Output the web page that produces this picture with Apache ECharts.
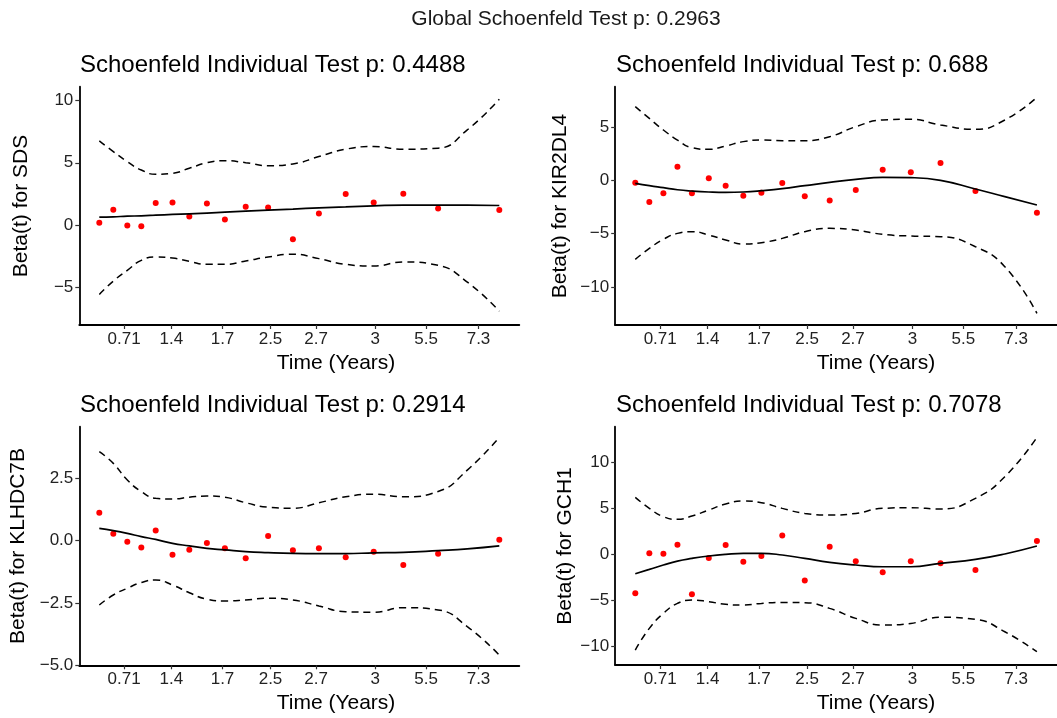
<!DOCTYPE html>
<html>
<head>
<meta charset="utf-8">
<script src="https://cdn.jsdelivr.net/npm/echarts@6/dist/echarts.min.js"></script>
<style>html,body{margin:0;padding:0;background:#fff}#c{width:1057px;height:718px}</style>
</head>
<body>
<div id="c"></div>
<script>
// transformed time positions of events (shared by all panels)
const eventX = [0, 0.035, 0.07, 0.105, 0.141, 0.183, 0.225, 0.269, 0.314, 0.366, 0.422, 0.484, 0.549, 0.616, 0.686, 0.76, 0.847, 1.0];
// grid on which the smooth fit and bounds are evaluated
const curveX = [0, 0.035, 0.07, 0.105, 0.141, 0.183, 0.225, 0.269, 0.314, 0.366, 0.422, 0.484, 0.549, 0.616, 0.686, 0.76, 0.847, 0.92, 1.0];
// x tick positions and labels (time in years)
const xTickPos = [0.062, 0.18, 0.308, 0.428, 0.542, 0.69, 0.817, 0.948];
const xTickLabels = ['0.71', '1.4', '1.7', '2.5', '2.7', '3', '5.5', '7.3'];

const globalTitle = 'Global Schoenfeld Test p: 0.2963';
const panelTitles = ['Schoenfeld Individual Test p: 0.4488', 'Schoenfeld Individual Test p: 0.688', 'Schoenfeld Individual Test p: 0.2914', 'Schoenfeld Individual Test p: 0.7078'];
const genes = ['SDS', 'KIR2DL4', 'KLHDC7B', 'GCH1'];
const xAxisTitle = 'Time (Years)';

// y tick values per panel
const yTicks1 = [-5, 0, 5, 10];
const yTicks2 = [-10, -5, 0, 5];
const yTicks3 = [-5, -2.5, 0, 2.5];
const yTicks4 = [-10, -5, 0, 5, 10];

// SDS
const resid1 = [0.19, 1.23, -0.03, -0.08, 1.77, 1.82, 0.70, 1.74, 0.46, 1.47, 1.42, -1.13, 0.94, 2.49, 1.82, 2.52, 1.34, 1.21];
const fit1 = [0.64, 0.67, 0.72, 0.75, 0.80, 0.86, 0.91, 0.97, 1.05, 1.13, 1.21, 1.29, 1.39, 1.47, 1.55, 1.61, 1.61, 1.61, 1.58];
const upper1 = [6.76, 5.9, 5.09, 4.42, 4.08, 4.16, 4.56, 5.01, 5.17, 5.01, 4.77, 4.91, 5.5, 6.09, 6.3, 6.09, 6.17, 7.64, 10.1];
const lower1 = [-5.55, -4.48, -3.62, -2.82, -2.55, -2.63, -2.9, -3.14, -3.14, -2.87, -2.55, -2.33, -2.68, -3.14, -3.27, -2.95, -3.22, -4.56, -6.89];

// KIR2DL4
const resid2 = [-0.22, -2.03, -1.22, 1.28, -1.22, 0.19, -0.5, -1.44, -1.16, -0.25, -1.5, -1.9, -0.91, 1.0, 0.75, 1.63, -1.0, -3.03];
const fit2 = [-0.28, -0.5, -0.69, -0.88, -1.0, -1.09, -1.13, -1.09, -0.97, -0.78, -0.5, -0.19, 0.09, 0.28, 0.25, 0, -0.81, -1.53, -2.31];
const upper2 = [6.91, 5.81, 4.72, 3.78, 3.06, 2.91, 3.22, 3.63, 3.78, 3.72, 3.72, 4.09, 5.03, 5.66, 5.72, 5.19, 4.78, 5.66, 7.78];
const lower2 = [-7.41, -6.38, -5.53, -4.97, -4.81, -5.13, -5.59, -5.97, -5.84, -5.44, -4.81, -4.5, -4.66, -5.06, -5.22, -5.28, -6.22, -8.09, -12.47];

// KLHDC7B
const resid3 = [1.12, 0.28, -0.04, -0.28, 0.41, -0.57, -0.37, -0.09, -0.31, -0.71, 0.19, -0.39, -0.31, -0.67, -0.45, -0.98, -0.53, 0.04];
const fit3 = [0.49, 0.4, 0.29, 0.16, 0.05, -0.11, -0.21, -0.31, -0.37, -0.44, -0.48, -0.51, -0.52, -0.52, -0.49, -0.47, -0.4, -0.33, -0.21];
const upper3 = [3.57, 3.1, 2.43, 1.97, 1.7, 1.67, 1.74, 1.79, 1.74, 1.52, 1.34, 1.3, 1.52, 1.76, 1.86, 1.76, 1.97, 2.83, 4.14];
const lower3 = [-2.58, -2.18, -1.91, -1.68, -1.58, -1.78, -2.09, -2.35, -2.42, -2.38, -2.31, -2.38, -2.62, -2.85, -2.87, -2.69, -2.78, -3.45, -4.59];

// GCH1
const resid4 = [-4.25, 0.11, 0.07, 1.05, -4.36, -0.4, 1.02, -0.8, -0.18, 2.07, -2.84, 0.84, -0.76, -1.96, -0.76, -0.98, -1.71, 1.45];
const fit4 = [-2.11, -1.64, -1.16, -0.73, -0.44, -0.18, 0, 0.11, 0.11, -0.07, -0.44, -0.87, -1.16, -1.35, -1.35, -0.98, -0.55, 0.04, 0.91];
const upper4 = [6.22, 5.02, 4.11, 3.82, 4.18, 4.84, 5.49, 5.82, 5.64, 5.02, 4.47, 4.29, 4.47, 5.02, 5.09, 4.95, 6.11, 8.47, 12.76];
const lower4 = [-10.44, -8.07, -6.44, -5.35, -4.98, -5.16, -5.45, -5.53, -5.35, -5.24, -5.27, -5.89, -6.98, -7.71, -7.53, -6.87, -7.09, -8.44, -10.62];

const FONT = '"Liberation Sans", Arial, Helvetica, sans-serif';
const panels = [
  {resid: resid1, fit: fit1, upper: upper1, lower: lower1, yTicks: yTicks1, ymin: -8.0, ymax: 11.1, dec: 0,
   grid: {left: 79.3, top: 86.7, width: 440, height: 238.3}, xTitle: [336, 363], yTitle: [21, 206]},
  {resid: resid2, fit: fit2, upper: upper2, lower: lower2, yTicks: yTicks2, ymin: -13.56, ymax: 8.78, dec: 0,
   grid: {left: 615.2, top: 86.7, width: 442.5, height: 238.3}, xTitle: [876, 363], yTitle: [560, 206]},
  {resid: resid3, fit: fit3, upper: upper3, lower: lower3, yTicks: yTicks3, ymin: -5.0, ymax: 4.57, dec: 1,
   grid: {left: 79.3, top: 426.7, width: 440, height: 238.6}, xTitle: [336, 703], yTitle: [18, 546]},
  {resid: resid4, fit: fit4, upper: upper4, lower: lower4, yTicks: yTicks4, ymin: -12.07, ymax: 13.93, dec: 0,
   grid: {left: 615.2, top: 426.7, width: 442.5, height: 238.3}, xTitle: [876, 703], yTitle: [565, 546]}
];
const titlePos = [[80, 65], [616, 65], [80, 405], [616, 405]];

function fmtNum(v, dec) {
  const s = dec ? Math.abs(v).toFixed(dec) : String(Math.abs(v));
  return (v < 0 ? '\u2212' : '') + s;
}

const grids = [], xAxes = [], yAxes = [], series = [], graphics = [];
graphics.push({type: 'text', x: 566, y: 19, style: {text: globalTitle, font: '21px ' + FONT, fill: '#1a1a1a', textAlign: 'center', textVerticalAlign: 'middle'}});

panels.forEach((p, i) => {
  grids.push(p.grid);
  xAxes.push({
    type: 'value', gridIndex: i, min: -0.05, max: 1.05,
    splitLine: {show: false},
    axisLine: {onZero: false, lineStyle: {color: '#000', width: 1.8}},
    axisTick: {length: 4, lineStyle: {color: '#333', width: 1.2}, customValues: xTickPos},
    axisLabel: {customValues: xTickPos, color: '#222', fontSize: 17, fontFamily: FONT, margin: 6,
      formatter: v => { const k = xTickPos.findIndex(t => Math.abs(t - v) < 1e-6); return k >= 0 ? xTickLabels[k] : ''; }}
  });
  yAxes.push({
    type: 'value', gridIndex: i, min: p.ymin, max: p.ymax,
    splitLine: {show: false},
    axisLine: {show: true, onZero: false, lineStyle: {color: '#000', width: 1.8}},
    axisTick: {show: true, length: 4, lineStyle: {color: '#333', width: 1.2}, customValues: p.yTicks},
    axisLabel: {customValues: p.yTicks, color: '#222', fontSize: 17, fontFamily: FONT, margin: 6,
      formatter: v => fmtNum(v, p.dec)}
  });
  const pts = eventX.map((x, k) => [x, p.resid[k]]);
  const mk = arr => curveX.map((x, k) => [x, arr[k]]);
  series.push({type: 'line', xAxisIndex: i, yAxisIndex: i, data: mk(p.upper), smooth: 0.5, showSymbol: false, silent: true,
    lineStyle: {color: '#000', width: 1.5, type: [7, 5]}});
  series.push({type: 'line', xAxisIndex: i, yAxisIndex: i, data: mk(p.lower), smooth: 0.5, showSymbol: false, silent: true,
    lineStyle: {color: '#000', width: 1.5, type: [7, 5]}});
  series.push({type: 'line', xAxisIndex: i, yAxisIndex: i, data: mk(p.fit), smooth: 0.5, showSymbol: false, silent: true,
    lineStyle: {color: '#000', width: 1.7}});
  series.push({type: 'scatter', xAxisIndex: i, yAxisIndex: i, data: pts, symbolSize: 6, silent: true,
    itemStyle: {color: '#ff0000', opacity: 1}});

  graphics.push({type: 'text', x: titlePos[i][0], y: titlePos[i][1], style: {text: panelTitles[i], font: '24px ' + FONT, fill: '#000', textAlign: 'left', textVerticalAlign: 'middle'}});
  graphics.push({type: 'text', x: p.xTitle[0], y: p.xTitle[1], style: {text: xAxisTitle, font: '21px ' + FONT, fill: '#000', textAlign: 'center', textVerticalAlign: 'middle'}});
  graphics.push({type: 'text', x: p.yTitle[0], y: p.yTitle[1], rotation: Math.PI / 2, style: {text: 'Beta(t) for ' + genes[i], font: '21px ' + FONT, fill: '#000', textAlign: 'center', textVerticalAlign: 'middle'}});
});

const chart = echarts.init(document.getElementById('c'), null, {renderer: 'canvas'});
chart.setOption({
  backgroundColor: '#fff',
  animation: false,
  grid: grids, xAxis: xAxes, yAxis: yAxes, series: series,
  graphic: graphics
});
</script>
</body>
</html>
